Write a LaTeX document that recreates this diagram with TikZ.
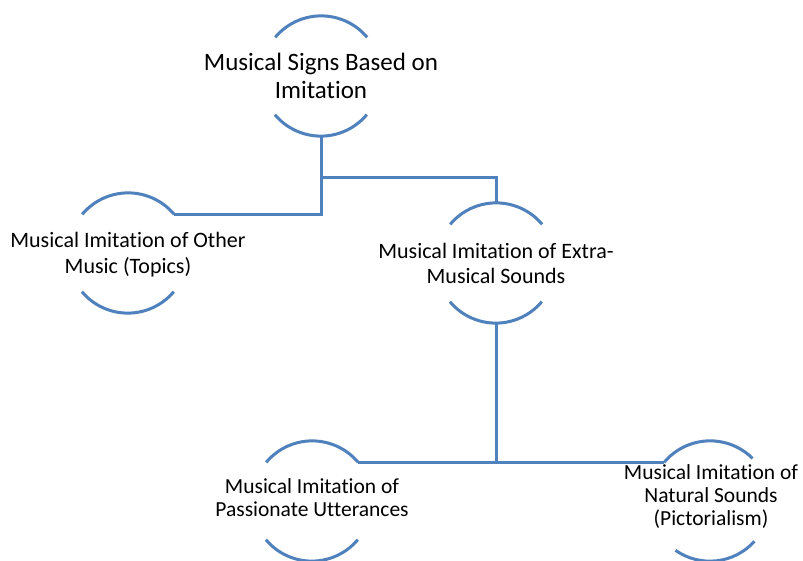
\documentclass[tikz,border=0pt]{standalone}
\usepackage{fontspec}
\setmainfont{Carlito}[Ligatures=NoCommon]
\definecolor{lineblue}{RGB}{79,129,189}
\tikzset{
  ring/.style={circle, minimum size=120pt, inner sep=0pt, draw=none},
  arcline/.style={draw=lineblue, line width=3pt},
  conn/.style={draw=lineblue, line width=3pt},
  lbl/.style={align=center, inner sep=0pt, text=black},
}
\begin{document}
\begin{tikzpicture}[x=1pt,y=-1pt]
\useasboundingbox[fill=white] (0,0) rectangle (803,561);
% ring anchors
\node[ring] (c1) at (321,76) {};
\node[ring] (c2) at (128,253) {};
\node[ring] (c3) at (496,263) {};
\node[ring] (c4) at (312,501) {};
\node[ring] (c5) at (710,501) {};
% labels
\node[lbl, font=\fontsize{25}{28}\selectfont] (t1) at (321,76) {Musical Signs Based on\\Imitation};
\node[lbl, font=\fontsize{22}{26}\selectfont] (t2) at (128,255) {Musical Imitation of Other\\Music (Topics)};
\node[lbl, font=\fontsize{22}{25}\selectfont] (t3) at (496,263) {Musical Imitation of Extra-\\Musical Sounds};
\node[lbl, font=\fontsize{21.5}{23}\selectfont] (t4) at (312,498) {Musical Imitation of\\Passionate Utterances};
\node[lbl, font=\fontsize{21.5}{23}\selectfont] (t5) at (711,497) {Musical Imitation of\\Natural Sounds\\(Pictorialism)};
% arcs
\foreach \c in {c1,c2,c3,c4} {
  \draw[arcline] (\c.40) arc[start angle=40, end angle=140, radius=60pt];
  \draw[arcline] (\c.220) arc[start angle=220, end angle=320, radius=60pt];
}
\draw[arcline] (c5.45) arc[start angle=45, end angle=140, radius=60pt];
\draw[arcline] (c5.235) arc[start angle=235, end angle=318, radius=60pt];
% connectors
\coordinate (j1) at (c1.south |- 0,178);
\draw[conn] (c1.south) |- (c2.40);
\draw[conn] (j1) -| (c3.north);
\coordinate (j2) at (c3.south |- c4.40);
\draw[conn] (c3.south) -- (j2);
\draw[conn] (c4.40) -- (c5.140);
\end{tikzpicture}
\end{document}
